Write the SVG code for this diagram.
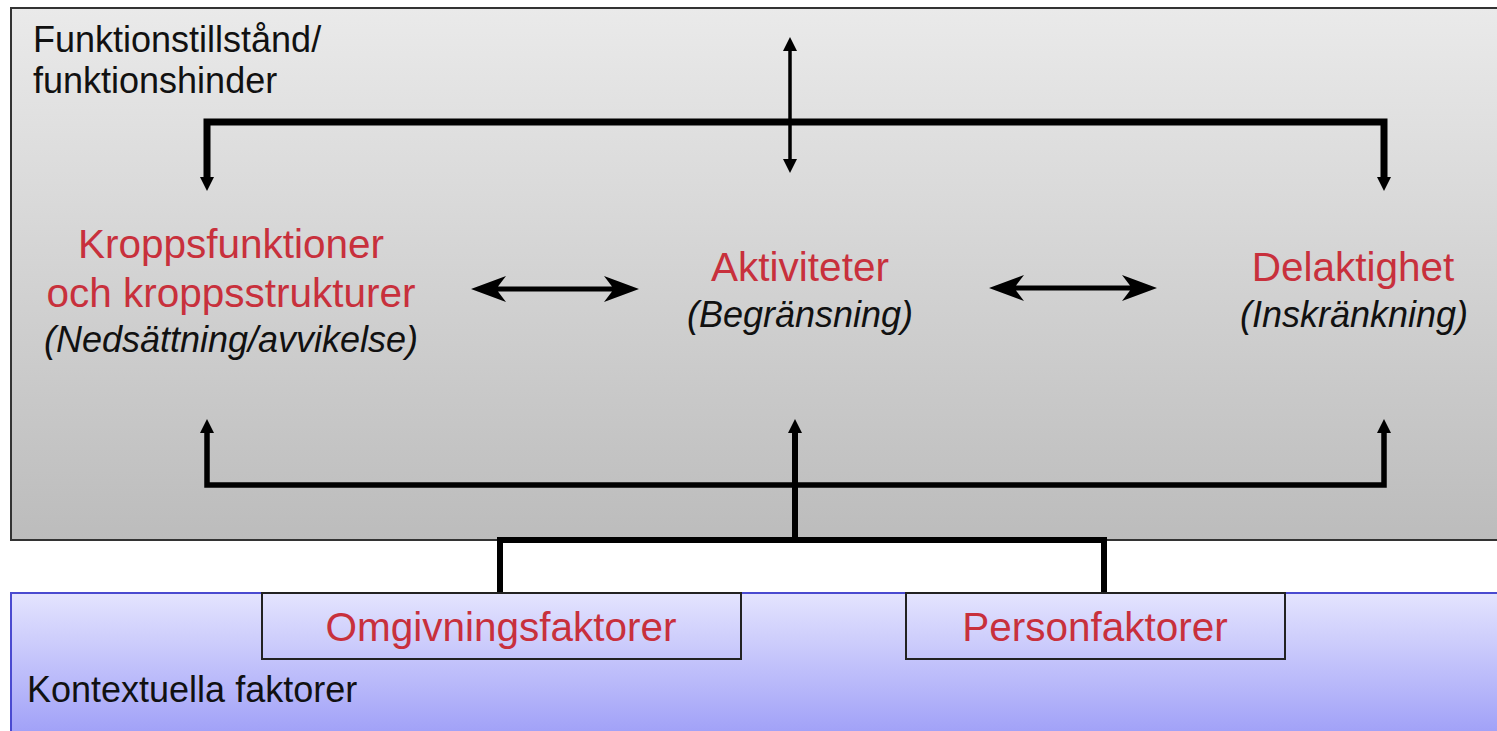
<svg xmlns="http://www.w3.org/2000/svg" width="1497" height="731" viewBox="0 0 1497 731">
<style>
text{font-family:"Liberation Sans",Arial,sans-serif}
.lbl{font-size:36px;fill:#111}
.title{font-size:40.5px;fill:#c8303c;text-anchor:middle}
.sub{font-size:36px;font-style:italic;fill:#111;text-anchor:middle}
.box{fill:none;stroke:#222;stroke-width:2}
.ln{stroke:#000;fill:none;stroke-linejoin:miter;stroke-linecap:butt}
.hd{fill:#000}
</style>
<defs>
<linearGradient id="gGray" x1="0" y1="0" x2="0" y2="1">
<stop offset="0" stop-color="#eaeaea"/>
<stop offset="1" stop-color="#bcbcbc"/>
</linearGradient>
<linearGradient id="gBlue" x1="0" y1="0" x2="0" y2="1">
<stop offset="0" stop-color="#e4e4fe"/>
<stop offset="1" stop-color="#9c9cf7"/>
</linearGradient>
</defs>
<rect width="1497" height="731" fill="#ffffff"/>
<g id="funktionstillstand">
<rect x="11" y="8" width="1500" height="532" fill="url(#gGray)" stroke="#333" stroke-width="2"/>
<text class="lbl" x="33" y="52">Funktionstillstånd/</text>
<text class="lbl" x="33" y="93">funktionshinder</text>
</g>
<g id="kontextuella">
<rect x="11" y="593" width="1500" height="150" fill="url(#gBlue)" stroke="#4a4ad0" stroke-width="2"/>
<text class="lbl" x="27" y="702">Kontextuella faktorer</text>
</g>
<g id="kroppsfunktioner">
<text class="title" x="231" y="258">Kroppsfunktioner</text>
<text class="title" x="231" y="307">och kroppsstrukturer</text>
<text class="sub" x="231" y="352">(Nedsättning/avvikelse)</text>
</g>
<g id="aktiviteter">
<text class="title" x="800" y="281">Aktiviteter</text>
<text class="sub" x="800" y="327">(Begränsning)</text>
</g>
<g id="delaktighet">
<text class="title" x="1353" y="281">Delaktighet</text>
<text class="sub" x="1354" y="327">(Inskränkning)</text>
</g>
<g id="omgivningsfaktorer">
<rect class="box" x="262" y="593" width="479" height="66"/>
<text class="title" x="501" y="641">Omgivningsfaktorer</text>
</g>
<g id="personfaktorer">
<rect class="box" x="906" y="593" width="379" height="66"/>
<text class="title" x="1095" y="641">Personfaktorer</text>
</g>
<g id="connectors">
<path class="ln" stroke-width="7" d="M207,178 V122 H1384 V178"/>
<polygon class="hd" points="200,177 214,177 207,191"/>
<polygon class="hd" points="1377,177 1391,177 1384,191"/>
<path class="ln" stroke-width="3.5" d="M790,50 V160"/>
<polygon class="hd" points="790,37 797,51 783,51"/>
<polygon class="hd" points="790,173 797,159 783,159"/>
<polygon class="hd" points="471,289 506,276 498,286.5 612,286.5 604,276 639,289 604,302 612,291.5 498,291.5 506,302"/>
<polygon class="hd" points="989,288 1024,275 1016,285.5 1130,285.5 1122,275 1157,288 1122,301 1130,290.5 1016,290.5 1024,301"/>
<path class="ln" stroke-width="5.5" d="M207,432 V485 H1384 V432"/>
<polygon class="hd" points="200,433 214,433 207,419"/>
<polygon class="hd" points="1377,433 1391,433 1384,419"/>
<path class="ln" stroke-width="6" d="M795,432 V540"/>
<polygon class="hd" points="788,433 802,433 795,419"/>
<path class="ln" stroke-width="6" d="M500,592 V540 H1104 V592"/>
</g>
</svg>
